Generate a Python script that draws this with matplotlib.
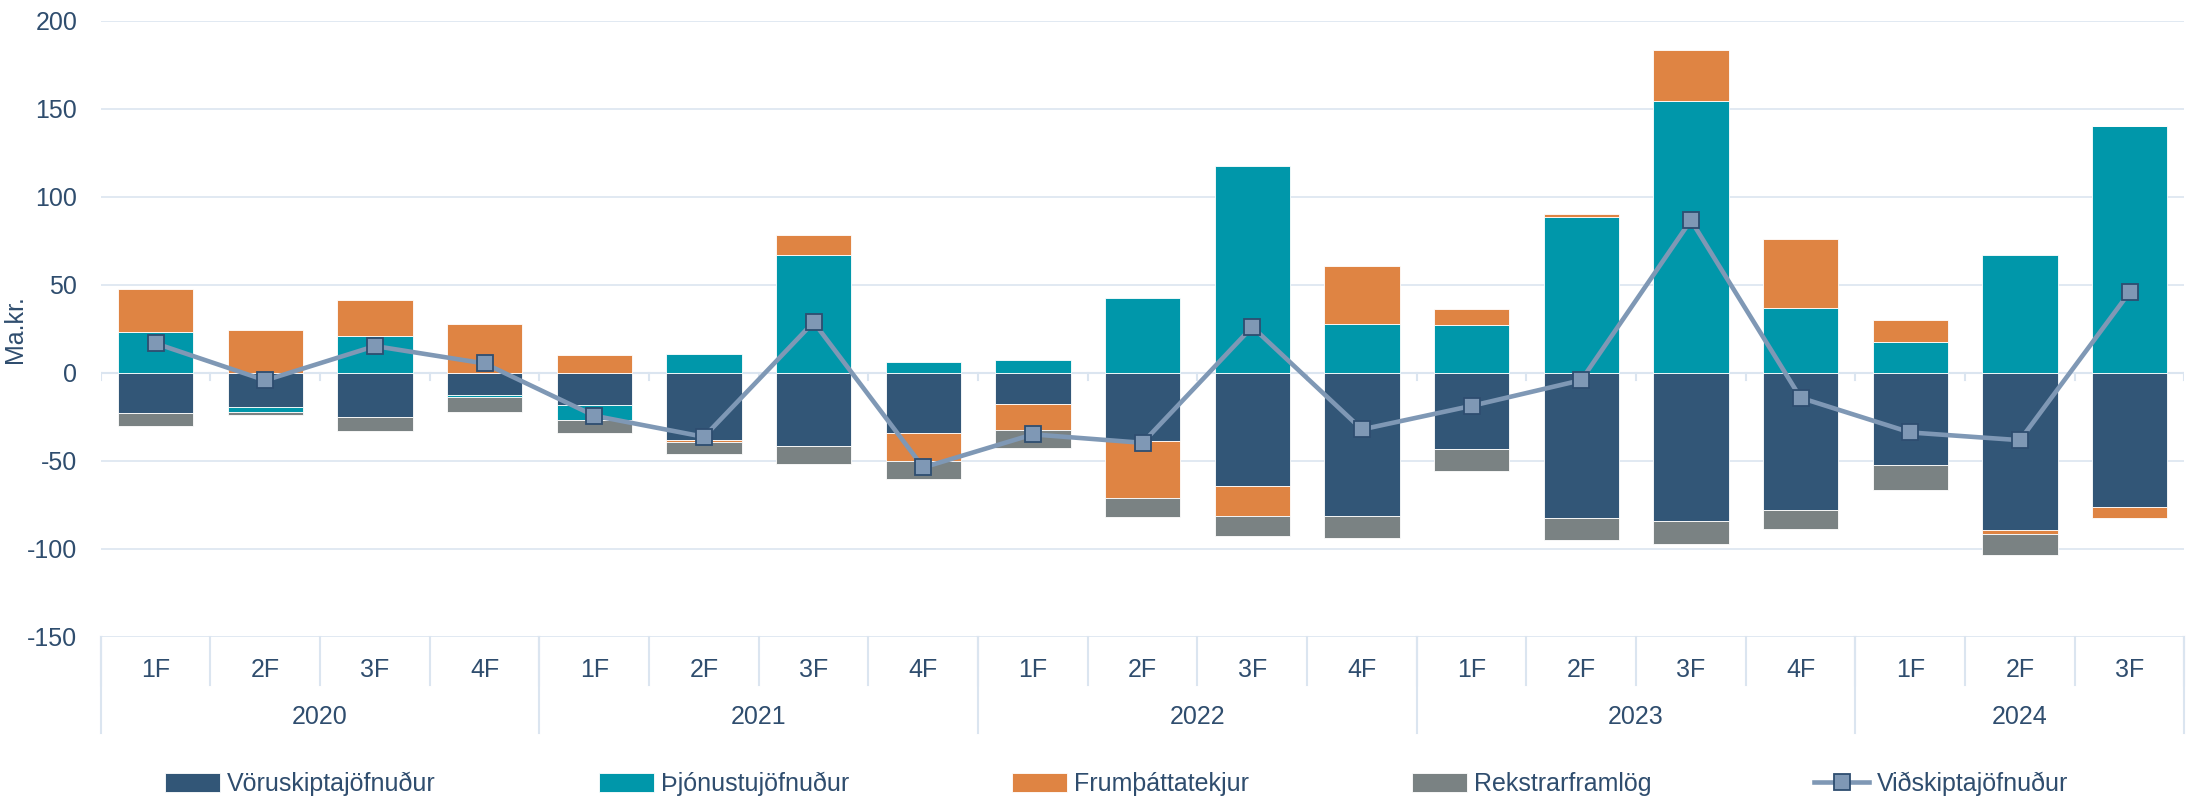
import numpy as np
import matplotlib
matplotlib.use('Agg')
import matplotlib.pyplot as plt
from matplotlib.transforms import blended_transform_factory

plt.rcParams['font.family'] = ['Liberation Sans', 'DejaVu Sans']
plt.rcParams['axes.unicode_minus'] = False

quarters = ['1F', '2F', '3F', '4F'] * 4 + ['1F', '2F', '3F']
years = ['2020', '2021', '2022', '2023', '2024']
year_len = [4, 4, 4, 4, 3]

voru = [-23.0, -19.6, -25.3, -12.6, -18.5, -38.4, -41.8, -34.2, -17.9, -38.9,
        -64.3, -81.5, -43.6, -82.9, -84.4, -77.9, -52.6, -89.5, -76.4]
thjon = [23.0, -2.8, 20.9, -1.3, -8.3, 10.3, 66.8, 6.0, 7.3, 42.2,
         117.7, 27.7, 27.0, 88.5, 154.4, 36.8, 17.2, 66.9, 140.2]
frum = [24.3, 24.3, 20.5, 27.4, 10.1, -1.1, 11.2, -16.1, -14.6, -32.6,
        -17.1, 32.8, 9.3, 1.9, 28.8, 39.2, 12.5, -2.1, -6.5]
rekstr = [-7.2, -1.7, -8.1, -8.4, -7.7, -7.0, -10.4, -10.4, -10.4, -10.8,
          -11.3, -12.4, -12.2, -12.3, -13.0, -11.2, -14.2, -11.9, 0.0]
vidskipti = [16.6, -4.4, 15.1, 5.2, -24.5, -36.5, 28.7, -53.9, -35.1, -39.9,
             26.0, -32.3, -18.9, -4.3, 86.6, -14.3, -34.0, -38.4, 45.7]

labels = ['Vöruskiptajöfnuður', 'Þjónustujöfnuður', 'Frumþáttatekjur', 'Rekstrarframlög']
colors = ['#325677', '#0097aa', '#df8443', '#7a8283']
txt = '#2f4d6e'
grid = '#dbe5f0'

fig = plt.figure(figsize=(21.91, 7.99), dpi=100)
ax = fig.add_axes([0.046, 0.2033, 0.951, 0.7708])

x = np.arange(len(quarters))
pos = np.zeros(len(x))
neg = np.zeros(len(x))
for vals, c, lab in zip([voru, thjon, frum, rekstr], colors, labels):
    v = np.array(vals)
    b = np.where(v >= 0, pos, neg)
    ax.bar(x, v, bottom=b, width=0.686, color=c, edgecolor='white', linewidth=0.6,
           label=lab, zorder=3)
    pos = pos + np.where(v >= 0, v, 0)
    neg = neg + np.where(v < 0, v, 0)

ax.plot(x, vidskipti, color='#7f98b5', lw=3.3, marker='s', markersize=11,
        markerfacecolor='#7f98b5', markeredgecolor='#2e4d70', markeredgewidth=1.3,
        label='Viðskiptajöfnuður', zorder=4)

ax.set_xlim(-0.5, len(x) - 0.5)
ax.set_ylim(-150, 200)
ax.set_yticks(np.arange(-150, 201, 50))
ax.yaxis.grid(True, color=grid, lw=1.2, zorder=0)
ax.set_axisbelow(True)
for s in ax.spines.values():
    s.set_visible(False)
ax.tick_params(axis='y', length=0, pad=17, labelsize=18, labelcolor=txt)
ax.set_xticks([])
ax.set_ylabel('Ma.kr.', fontsize=18, color=txt)
ax.yaxis.set_label_coords(-0.0354, 0.5)

# zero line with small ticks
ax.axhline(0, color=grid, lw=1.5, zorder=1)
for b in np.arange(-0.5, len(x), 1):
    ax.plot([b, b], [0, -4.3], color=grid, lw=1.5, zorder=1)

# multi level category axis
tr = blended_transform_factory(ax.transData, ax.transAxes)
for i, q in enumerate(quarters):
    ax.text(i, -0.0544, q, transform=tr, ha='center', va='center', fontsize=18, color=txt)
for b in np.arange(-0.5, len(x), 1):
    ax.plot([b, b], [0, -0.0786], transform=tr, color=grid, lw=1.5, clip_on=False)
start = 0
for y, n in zip(years, year_len):
    ax.text(start + (n - 1) / 2, -0.13, y, transform=tr, ha='center', va='center',
            fontsize=18, color=txt)
    ax.plot([start - 0.5, start - 0.5], [0, -0.156], transform=tr, color=grid, lw=1.5, clip_on=False)
    start += n
ax.plot([start - 0.5, start - 0.5], [0, -0.156], transform=tr, color=grid, lw=1.5, clip_on=False)

h, l = ax.get_legend_handles_labels()
h = h[1:] + h[:1]
l = l[1:] + l[:1]
leg = fig.legend(h, l, loc='center', bbox_to_anchor=(0.5096, 0.0188), ncol=5, frameon=False,
                 fontsize=18, handlelength=2.2, handleheight=0.8, columnspacing=6.5,
                 handletextpad=0.3)
for t in leg.get_texts():
    t.set_color(txt)

fig.savefig('out.png', dpi=100)
